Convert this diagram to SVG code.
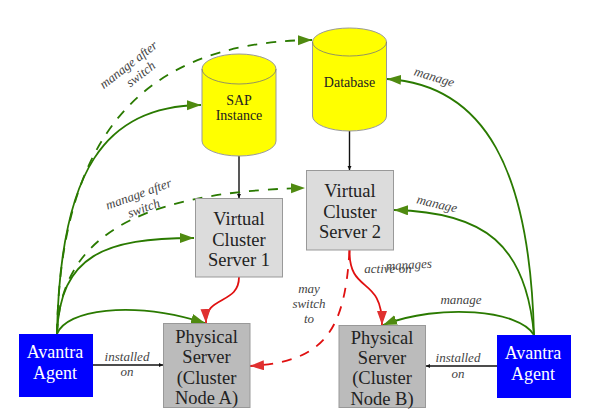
<svg xmlns="http://www.w3.org/2000/svg" width="591" height="417" viewBox="0 0 591 417">
<style>
text{font-family:"Liberation Serif","DejaVu Serif",serif;text-anchor:middle}
.n{font-size:18.500px;fill:#222}
.c{font-size:14px;fill:#222}
.a{font-size:18px;fill:#fff}
.l{font-size:13px;font-style:italic;fill:#444}
.box{stroke:#999;stroke-width:1}
.cyl{fill:#ff0;stroke:#999;stroke-width:1}
.top{fill:none;stroke:#777;stroke-width:.8}
.g{fill:none;stroke:#2a7a00;stroke-width:1.800}
.r{fill:none;stroke:#e01010;stroke-width:1.800}
.d{stroke-dasharray:10 9}
.k{fill:none;stroke:#111;stroke-width:1.400}
</style>
<defs>
<marker id="ag" markerUnits="userSpaceOnUse" markerWidth="16" markerHeight="12" refX="14" refY="5" orient="auto"><path d="M0 0L14 5L0 10Z" fill="#4f8a10"/></marker>
<marker id="ar" markerUnits="userSpaceOnUse" markerWidth="16" markerHeight="12" refX="14" refY="5" orient="auto"><path d="M0 0L14 5L0 10Z" fill="#e03030"/></marker>
<marker id="ak" markerUnits="userSpaceOnUse" markerWidth="6" markerHeight="6" refX="4" refY="2" orient="auto"><path d="M0 0L4 2L0 4Z" fill="#111"/></marker>
</defs>
<g id="connectors">
<path class="k" d="M239 156V198" marker-end="url(#ak)"/>
<path class="k" d="M349.500 131V170" marker-end="url(#ak)"/>
<path class="k" d="M93 365H163" marker-end="url(#ak)"/>
<path class="k" d="M497 366H426" marker-end="url(#ak)"/>
<path class="g" d="M57 334C60 170 105 106 201 105" marker-end="url(#ag)"/>
<path class="g d" d="M57 334C60 150 130 42 312 40" marker-end="url(#ag)"/>
<path class="g" d="M57 334C60 255 105 238 194 238" marker-end="url(#ag)"/>
<path class="g d" d="M57 334C60 245 125 192 305 188" marker-end="url(#ag)"/>
<path class="g" d="M57 334C66 310 130 300 205 323" marker-end="url(#ag)"/>
<path class="g" d="M534 335C530 170 485 85 387 79" marker-end="url(#ag)"/>
<path class="g" d="M534 335C526 245 485 212 394 210" marker-end="url(#ag)"/>
<path class="g" d="M534 335C520 310 440 303 383 325" marker-end="url(#ag)"/>
<path class="r" d="M239 277C239 305 205 295 206 323" marker-end="url(#ar)"/>
<path class="r" d="M349.500 250C349 295 382 275 382 325" marker-end="url(#ar)"/>
<path class="r d" d="M349.500 250C345 330 325 362 250 366" marker-end="url(#ar)"/>
</g>
<g id="sap"><path class="cyl" d="M202 69A37 15 0 0 1 276 69V141A37 15 0 0 1 202 141Z"/><path class="top" d="M202 69A37 15 0 0 0 276 69"/><text class="c" x="239" y="105">SAP</text><text class="c" x="239" y="120">Instance</text></g>
<g id="database"><path class="cyl" d="M312.500 42A37 14 0 0 1 386.500 42V116A37 15 0 0 1 312.500 116Z"/><path class="top" d="M312.500 42A37 14 0 0 0 386.500 42"/><text class="c" x="349.500" y="87">Database</text></g>
<g id="vcs1"><rect class="box" x="195.500" y="198.500" width="87" height="78.500" fill="#dcdcdc"/><text class="n" x="239" y="225">Virtual</text><text class="n" x="239" y="246">Cluster</text><text class="n" x="239" y="266">Server 1</text></g>
<g id="vcs2"><rect class="box" x="306.500" y="170.500" width="87" height="79.500" fill="#dcdcdc"/><text class="n" x="350" y="197">Virtual</text><text class="n" x="350" y="218">Cluster</text><text class="n" x="350" y="238">Server 2</text></g>
<g id="psa"><rect class="box" x="163.500" y="323.500" width="86.500" height="84" fill="#bbb"/><text class="n" x="206.500" y="343">Physical</text><text class="n" x="206.500" y="363">Server</text><text class="n" x="206.500" y="384">(Cluster</text><text class="n" x="206.500" y="404">Node A)</text></g>
<g id="psb"><rect class="box" x="339" y="325.500" width="86.500" height="82" fill="#bbb"/><text class="n" x="382" y="344">Physical</text><text class="n" x="382" y="364">Server</text><text class="n" x="382" y="384">(Cluster</text><text class="n" x="382" y="405">Node B)</text></g>
<g id="agenta"><rect x="19" y="334" width="74" height="63" fill="#00f"/><text class="a" x="55" y="358">Avantra</text><text class="a" x="55" y="379">Agent</text></g>
<g id="agentb"><rect x="497" y="335" width="74" height="63" fill="#00f"/><text class="a" x="533" y="359">Avantra</text><text class="a" x="533" y="380">Agent</text></g>
<g id="labels">
<text class="l" transform="translate(131 68) rotate(-38)"><tspan x="0" y="0">manage after</tspan><tspan x="4" y="15">switch</tspan></text>
<text class="l" transform="translate(140 198) rotate(-20)"><tspan x="0" y="0">manage after</tspan><tspan x="0" y="15">switch</tspan></text>
<text class="l" transform="translate(433 81) rotate(17)">manage</text>
<text class="l" transform="translate(436 208) rotate(13)">manage</text>
<text class="l" x="461" y="304">manage</text>
<text class="l" x="127" y="361">installed</text><text class="l" x="127" y="376">on</text>
<text class="l" x="458" y="362">installed</text><text class="l" x="458" y="378">on</text>
<text class="l" x="388" y="273">active on</text>
<text class="l" transform="translate(409 269) rotate(-3)">manages</text>
<text class="l" x="309" y="293">may</text><text class="l" x="309" y="308">switch</text><text class="l" x="309" y="323">to</text>
</g>
</svg>
